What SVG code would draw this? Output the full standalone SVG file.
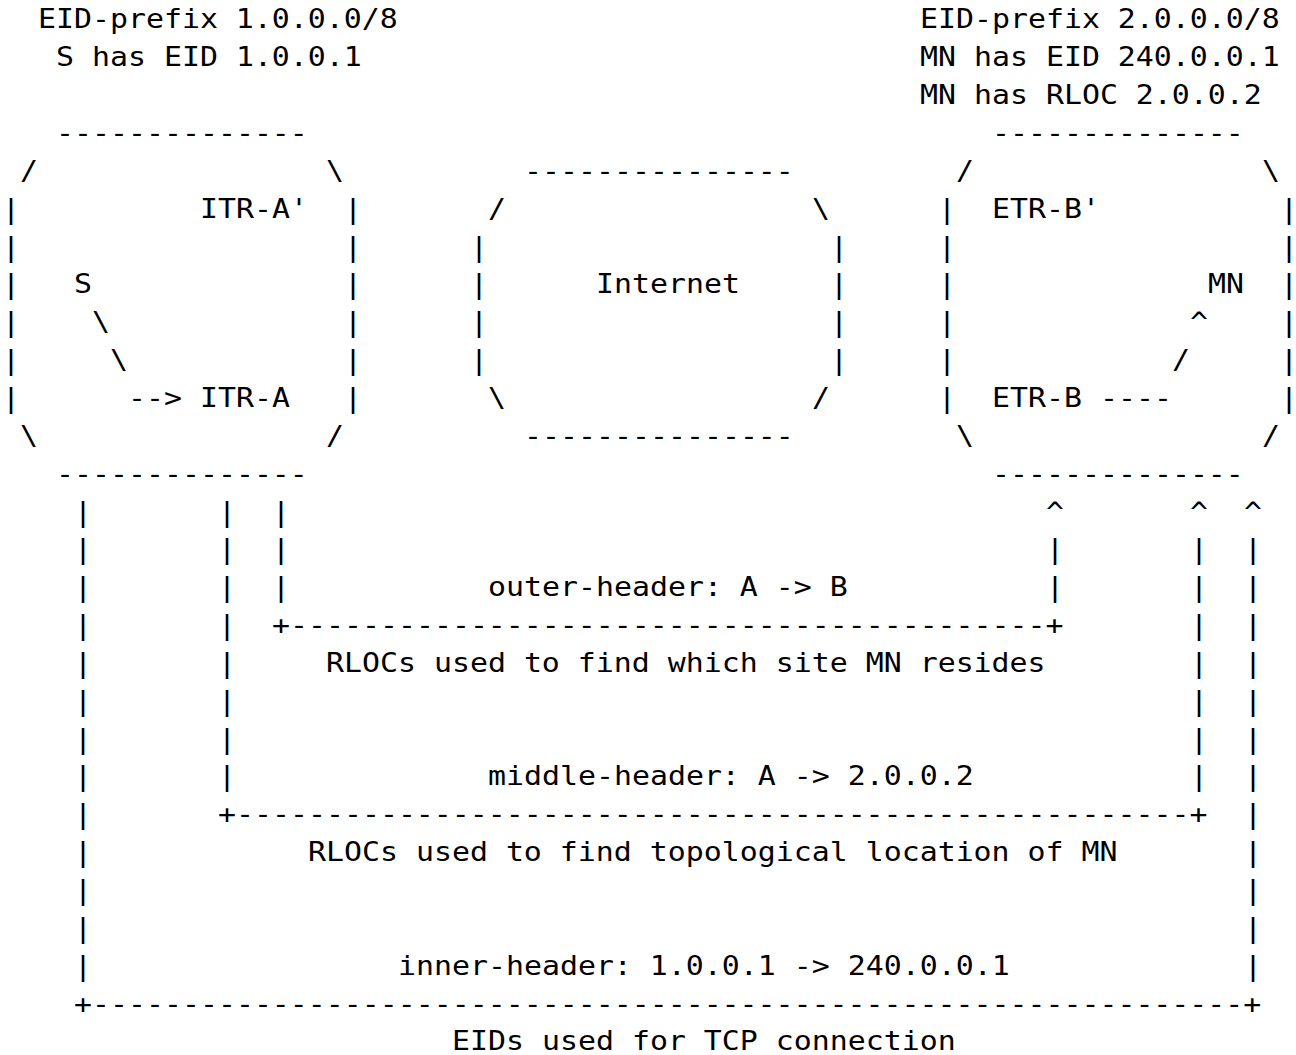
<svg xmlns="http://www.w3.org/2000/svg" width="1296" height="1055" viewBox="0 0 1296 1055">
<style>
text{font-family:"DejaVu Sans Mono","Liberation Mono",monospace;font-size:26px;fill:#000;white-space:pre}
</style>
<rect width="1296" height="1055" fill="#fff"/>
<g id="diagram" transform="scale(1.15 1)">
<g id="label-site-a">
<text x="33.043" y="28.5">EID-prefix 1.0.0.0/8</text>
<text x="48.696" y="66.35">S has EID 1.0.0.1</text>
</g>
<g id="label-site-b">
<text x="800" y="28.5">EID-prefix 2.0.0.0/8</text>
<text x="800" y="66.35">MN has EID 240.0.0.1</text>
<text x="800" y="104.2">MN has RLOC 2.0.0.2</text>
</g>
<g id="site-a">
<text x="48.696" y="142.05">--------------</text>
<text x="17.391" y="179.9">/</text>
<text x="283.478" y="179.9">\</text>
<text x="1.739" y="217.75">|</text>
<text x="173.913" y="217.75">ITR-A'</text>
<text x="299.130" y="217.75">|</text>
<text x="1.739" y="255.6">|</text>
<text x="299.130" y="255.6">|</text>
<text x="1.739" y="293.45">|</text>
<text x="64.348" y="293.45">S</text>
<text x="299.130" y="293.45">|</text>
<text x="1.739" y="331.3">|</text>
<text x="80" y="331.3">\</text>
<text x="299.130" y="331.3">|</text>
<text x="1.739" y="369.15">|</text>
<text x="95.652" y="369.15">\</text>
<text x="299.130" y="369.15">|</text>
<text x="1.739" y="407">|</text>
<text x="111.304" y="407">--&gt; ITR-A</text>
<text x="299.130" y="407">|</text>
<text x="17.391" y="444.85">\</text>
<text x="283.478" y="444.85">/</text>
<text x="48.696" y="482.7">--------------</text>
</g>
<g id="internet">
<text x="455.652" y="179.9">---------------</text>
<text x="424.348" y="217.75">/</text>
<text x="706.087" y="217.75">\</text>
<text x="408.696" y="255.6">|</text>
<text x="721.739" y="255.6">|</text>
<text x="408.696" y="293.45">|</text>
<text x="518.261" y="293.45">Internet</text>
<text x="721.739" y="293.45">|</text>
<text x="408.696" y="331.3">|</text>
<text x="721.739" y="331.3">|</text>
<text x="408.696" y="369.15">|</text>
<text x="721.739" y="369.15">|</text>
<text x="424.348" y="407">\</text>
<text x="706.087" y="407">/</text>
<text x="455.652" y="444.85">---------------</text>
</g>
<g id="site-b">
<text x="862.609" y="142.05">--------------</text>
<text x="831.304" y="179.9">/</text>
<text x="1097.391" y="179.9">\</text>
<text x="815.652" y="217.75">|</text>
<text x="862.609" y="217.75">ETR-B'</text>
<text x="1113.043" y="217.75">|</text>
<text x="815.652" y="255.6">|</text>
<text x="1113.043" y="255.6">|</text>
<text x="815.652" y="293.45">|</text>
<text x="1050.435" y="293.45">MN</text>
<text x="1113.043" y="293.45">|</text>
<text x="815.652" y="331.3">|</text>
<text x="1034.783" y="331.3">^</text>
<text x="1113.043" y="331.3">|</text>
<text x="815.652" y="369.15">|</text>
<text x="1019.130" y="369.15">/</text>
<text x="1113.043" y="369.15">|</text>
<text x="815.652" y="407">|</text>
<text x="862.609" y="407">ETR-B ----</text>
<text x="1113.043" y="407">|</text>
<text x="831.304" y="444.85">\</text>
<text x="1097.391" y="444.85">/</text>
<text x="862.609" y="482.7">--------------</text>
</g>
<g id="connectors">
<text x="64.348" y="520.55">|</text>
<text x="189.565" y="520.55">|</text>
<text x="236.522" y="520.55">|</text>
<text x="909.565" y="520.55">^</text>
<text x="1034.783" y="520.55">^</text>
<text x="1081.739" y="520.55">^</text>
<text x="64.348" y="558.4">|</text>
<text x="189.565" y="558.4">|</text>
<text x="236.522" y="558.4">|</text>
<text x="909.565" y="558.4">|</text>
<text x="1034.783" y="558.4">|</text>
<text x="1081.739" y="558.4">|</text>
<text x="64.348" y="596.25">|</text>
<text x="189.565" y="596.25">|</text>
<text x="236.522" y="596.25">|</text>
<text x="424.348" y="596.25">outer-header: A -&gt; B</text>
<text x="909.565" y="596.25">|</text>
<text x="1034.783" y="596.25">|</text>
<text x="1081.739" y="596.25">|</text>
<text x="64.348" y="634.1">|</text>
<text x="189.565" y="634.1">|</text>
<text x="236.522" y="634.1">+------------------------------------------+</text>
<text x="1034.783" y="634.1">|</text>
<text x="1081.739" y="634.1">|</text>
<text x="64.348" y="671.95">|</text>
<text x="189.565" y="671.95">|</text>
<text x="283.478" y="671.95">RLOCs used to find which site MN resides</text>
<text x="1034.783" y="671.95">|</text>
<text x="1081.739" y="671.95">|</text>
<text x="64.348" y="709.8">|</text>
<text x="189.565" y="709.8">|</text>
<text x="1034.783" y="709.8">|</text>
<text x="1081.739" y="709.8">|</text>
<text x="64.348" y="747.65">|</text>
<text x="189.565" y="747.65">|</text>
<text x="1034.783" y="747.65">|</text>
<text x="1081.739" y="747.65">|</text>
<text x="64.348" y="785.5">|</text>
<text x="189.565" y="785.5">|</text>
<text x="424.348" y="785.5">middle-header: A -&gt; 2.0.0.2</text>
<text x="1034.783" y="785.5">|</text>
<text x="1081.739" y="785.5">|</text>
<text x="64.348" y="823.35">|</text>
<text x="189.565" y="823.35">+-----------------------------------------------------+</text>
<text x="1081.739" y="823.35">|</text>
<text x="64.348" y="861.2">|</text>
<text x="267.826" y="861.2">RLOCs used to find topological location of MN</text>
<text x="1081.739" y="861.2">|</text>
<text x="64.348" y="899.05">|</text>
<text x="1081.739" y="899.05">|</text>
<text x="64.348" y="936.9">|</text>
<text x="1081.739" y="936.9">|</text>
<text x="64.348" y="974.75">|</text>
<text x="346.087" y="974.75">inner-header: 1.0.0.1 -&gt; 240.0.0.1</text>
<text x="1081.739" y="974.75">|</text>
<text x="64.348" y="1012.6">+----------------------------------------------------------------+</text>
<text x="393.043" y="1050.45">EIDs used for TCP connection</text>
</g>
</g>
</svg>
